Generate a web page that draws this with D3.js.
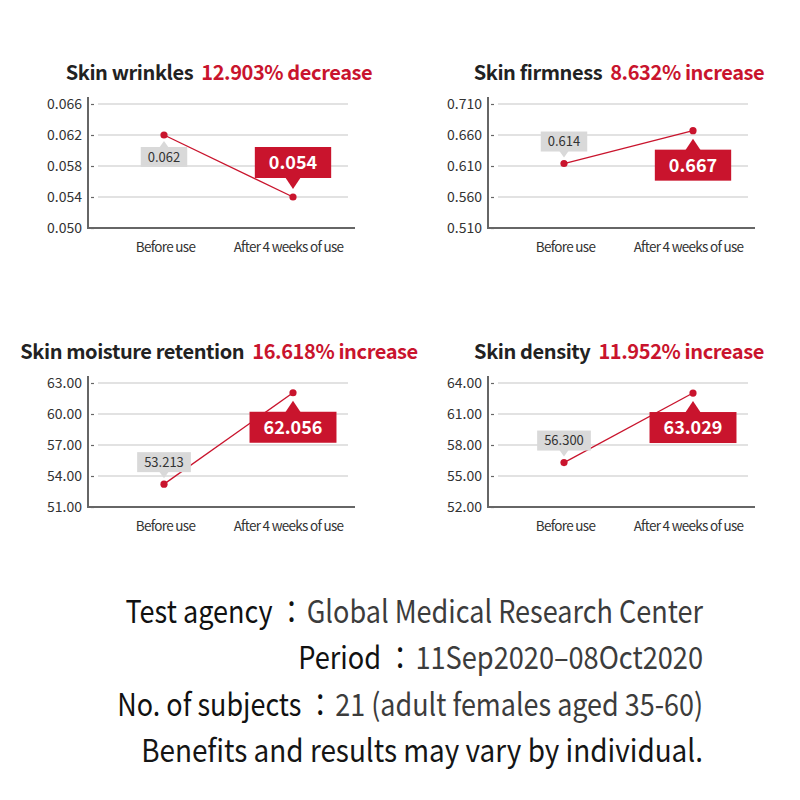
<!DOCTYPE html>
<html><head><meta charset="utf-8">
<script src="https://cdn.jsdelivr.net/npm/d3@7"></script>
<style>body{margin:0;background:#fff}svg{display:block}</style>
</head><body>
<svg id="chart" width="800" height="800"></svg>
<script>
// ---- data ----
const categories = ["Before use", "After 4 weeks of use"];
const panelNames = ["Skin wrinkles", "Skin firmness", "Skin moisture retention", "Skin density"];
const panelChanges = ["12.903% decrease", "8.632% increase", "16.618% increase", "11.952% increase"];
const beforeValues = [0.062, 0.614, 53.213, 56.300];
const afterValues = [0.054, 0.667, 62.056, 63.029];
const beforeLabels = ["0.062", "0.614", "53.213", "56.300"];
const afterLabels = ["0.054", "0.667", "62.056", "63.029"];
const wrinkleTicks = [0.050, 0.054, 0.058, 0.062, 0.066];
const firmnessTicks = [0.510, 0.560, 0.610, 0.660, 0.710];
const moistureTicks = [51, 54, 57, 60, 63];
const densityTicks = [52, 55, 58, 61, 64];
const tickFormats = [".3f", ".3f", ".2f", ".2f"];
const noteLabels = ["Test agency", "Period", "No. of subjects", ""];
const noteValues = [
  "Global Medical Research Center",
  "11Sep2020\u201308Oct2020",
  "21 (adult females aged 35-60)",
  "Benefits and results may vary by individual."
];

// ---- layout ----
const RED = "#c9142d";
const FONT = "'Noto Sans CJK KR', 'Noto Sans', sans-serif";
const allTicks = [wrinkleTicks, firmnessTicks, moistureTicks, densityTicks];
const beforeSide = ["below", "above", "above", "above"];
const afterSide = ["above", "below", "below", "below"];

const svg = d3.select("#chart");

allTicks.forEach((ticks, i) => {
  const col = i % 2, row = Math.floor(i / 2);
  const ax = 88 + 400 * col;
  const top = 104 + 279 * row;
  const bottom = top + 124;
  const g = svg.append("g");

  const y = d3.scaleLinear().domain(d3.extent(ticks)).range([bottom, top]);
  const x = d3.scalePoint().domain(categories).range([ax + 76, ax + 205]);
  const xl = d3.scalePoint().domain(categories).range([ax + 77, ax + 200]);

  // gridlines
  g.selectAll("line.grid").data(ticks.slice(1)).join("line")
    .attr("x1", ax + 10).attr("x2", ax + 260)
    .attr("y1", d => y(d)).attr("y2", d => y(d))
    .attr("stroke", "#c6c6c6").attr("stroke-width", 1.2);

  // y axis
  const yAxis = d3.axisLeft(y).tickValues(ticks)
    .tickFormat(d3.format(tickFormats[i])).tickSize(-6).tickPadding(6);
  const ya = g.append("g").attr("transform", `translate(${ax},0)`).call(yAxis);
  ya.select(".domain").remove();
  ya.selectAll(".tick line").attr("stroke", "#666").attr("stroke-width", 1.2)
    .attr("x1", 3).attr("x2", 6);
  ya.selectAll(".tick text").attr("font-family", FONT).attr("font-size", 14)
    .attr("fill", "#333");

  // axis lines
  g.append("line").attr("x1", ax).attr("x2", ax).attr("y1", top - 7).attr("y2", bottom)
    .attr("stroke", "#666").attr("stroke-width", 2);
  g.append("line").attr("x1", ax - 1).attr("x2", ax + 267).attr("y1", bottom).attr("y2", bottom)
    .attr("stroke", "#666").attr("stroke-width", 2);

  // x labels
  const xAxis = d3.axisBottom(xl).tickSize(0).tickPadding(0);
  const xa = g.append("g").attr("transform", `translate(0,${bottom})`).call(xAxis);
  xa.select(".domain").remove();
  xa.selectAll(".tick text").attr("y", 24).attr("dy", 0)
    .attr("font-family", FONT).attr("font-size", 13.5).attr("letter-spacing", -0.7)
    .attr("fill", "#333");

  // title
  const t = g.append("text").attr("x", ax + 131).attr("y", top - 24)
    .attr("text-anchor", "middle").attr("font-family", FONT)
    .attr("font-weight", 700).attr("font-size", 20).attr("letter-spacing", -0.4);
  t.append("tspan").attr("fill", "#222").text(panelNames[i]);
  t.append("tspan").attr("fill", RED).attr("dx", 8).text(panelChanges[i]);

  // line + points
  const pts = [[categories[0], beforeValues[i]], [categories[1], afterValues[i]]];
  g.append("path").datum(pts)
    .attr("d", d3.line().x(d => x(d[0])).y(d => y(d[1])))
    .attr("fill", "none").attr("stroke", RED).attr("stroke-width", 1.3);
  g.selectAll("circle").data(pts).join("circle")
    .attr("cx", d => x(d[0])).attr("cy", d => y(d[1])).attr("r", 3.6).attr("fill", RED);

  // callouts
  function callout(px, py, side, label, big) {
    const h = big ? 31 : 20;
    const gap = big ? 19 : 12;
    const triH = big ? 11 : 6;
    const triW = big ? 8 : 5;
    const cg = g.append("g");
    const txt = cg.append("text").attr("text-anchor", "middle")
      .attr("font-family", FONT).attr("font-size", big ? 18 : 13)
      .attr("font-weight", big ? 700 : 400)
      .attr("fill", big ? "#fff" : "#333").text(label);
    const w = txt.node().getComputedTextLength() + (big ? 28 : 14);
    let by, tipY, baseY;
    if (side === "above") { by = py - gap - h; baseY = py - gap; tipY = baseY + triH; }
    else { by = py + gap; baseY = by; tipY = baseY - triH; }
    const fill = big ? RED : "#d9d9d9";
    cg.insert("rect", "text").attr("x", px - w / 2).attr("y", by).attr("width", w).attr("height", h).attr("fill", fill);
    const o = side === "above" ? -1 : 1;
    cg.insert("path", "text").attr("d",
      `M${px - triW},${baseY + o} L${px},${tipY} L${px + triW},${baseY + o} Z`)
      .attr("fill", fill);
    txt.attr("x", px).attr("y", by + h / 2).attr("dy", "0.36em");
  }
  callout(x(categories[0]), y(beforeValues[i]), beforeSide[i], beforeLabels[i], false);
  callout(x(categories[1]), y(afterValues[i]), afterSide[i], afterLabels[i], true);
});

// notes
const noteY = [623, 669, 716, 762];
const noteW = [578, 405, 586, 562];
noteValues.forEach((v, i) => {
  const ng = svg.append("g").attr("transform", `translate(703,${noteY[i]})`);
  const tx = ng.append("text").attr("x", 0).attr("y", 0)
    .attr("text-anchor", "end").attr("font-family", FONT).attr("font-size", 31);
  if (noteLabels[i]) {
    tx.append("tspan").attr("fill", "#111").text(noteLabels[i] + "\u2009\uFF1A\u200A");
    tx.append("tspan").attr("fill", "#3c3c3c").text(v);
  } else {
    tx.append("tspan").attr("fill", "#151515").text(v);
  }
  const nat = tx.node().getComputedTextLength();
  tx.attr("transform", `scale(${noteW[i] / nat},1)`);
});
</script>
</body></html>
